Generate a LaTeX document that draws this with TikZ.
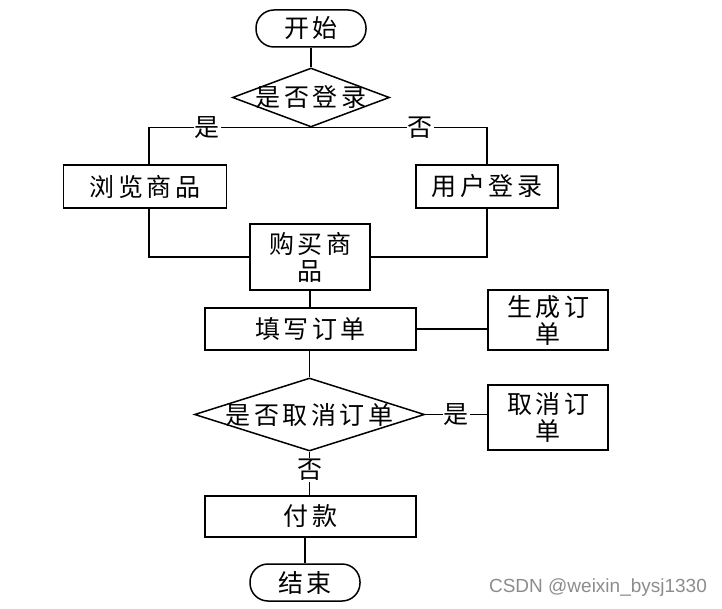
\documentclass[tikz,border=0pt]{standalone}
\usepackage{fontspec}
\newfontfamily\cjk[LetterSpace=14]{Noto Sans CJK SC}
\newfontfamily\wmfont{Liberation Sans}
\usetikzlibrary{shapes.geometric}
\begin{document}
\begin{tikzpicture}[x=1pt,y=-1pt,
  every node/.style={font=\cjk\fontsize{25}{27}\selectfont, inner sep=0pt},
  term/.style={draw, line width=1.5pt, rounded corners=18pt, minimum width=110pt, minimum height=37pt},
  proc/.style={draw, line width=1.5pt, align=center},
  dec/.style={draw, line width=1.5pt, diamond},
  lab/.style={fill=white, inner sep=1pt},
  line/.style={line width=1.5pt}]
\useasboundingbox (0,0) rectangle (722,609);
\node[term] (start) at (311,28.5) {开始};
\node[dec, aspect=2.66, minimum width=157pt, minimum height=59pt] (d1) at (311,97.5) {\makebox[0pt]{是否登录}};
\node[proc, minimum width=163pt, minimum height=43pt] (browse) at (145,186.5) {浏览商品};
\node[proc, minimum width=142pt, minimum height=43pt] (login) at (487,186.5) {用户登录};
\node[proc, minimum width=120pt, minimum height=66pt] (buy) at (310,257) {购买商\\品};
\node[proc, minimum width=211pt, minimum height=42pt] (fill) at (310.5,329) {填写订单};
\node[proc, minimum width=120pt, minimum height=60pt] (gen) at (548,320) {生成订\\单};
\node[dec, aspect=3.15, minimum width=230pt, minimum height=73pt] (d2) at (309.5,414.5) {\makebox[0pt]{是否取消订单}};
\node[proc, minimum width=120pt, minimum height=65pt] (cancel) at (548,417.5) {取消订\\单};
\node[proc, minimum width=211pt, minimum height=41pt] (pay) at (310.5,516.5) {付款};
\node[term] (end) at (305,582.5) {结束};
\node[font=\wmfont\fontsize{19}{22}\selectfont, text=black!45] (wm) at (598,588) {CSDN @weixin\_bysj1330};

\draw[line] (start) -- (d1);
\draw[line] (d1.south) -| node[lab, pos=0.32] {是} ([xshift=4pt]browse.north);
\draw[line] (d1.south) -| node[lab, pos=0.31] {否} (login.north);
\draw[line] ([xshift=4pt]browse.south) |- (buy.west);
\draw[line] (login.south) |- (buy.east);
\draw[line] (buy.south) -- (fill.north -| buy.south);
\draw[line] (fill.east) -- (gen.west |- fill.east);
\draw[line] (d2.north |- fill.south) -- (d2.north);
\draw[line] (d2.east) -- node[lab] {是} (cancel.west |- d2.east);
\draw[line] (d2.south) -- node[lab, pos=0.42] {否} (pay.north -| d2.south);
\draw[line] (pay.south -| end.north) -- (end.north);
\end{tikzpicture}
\end{document}
